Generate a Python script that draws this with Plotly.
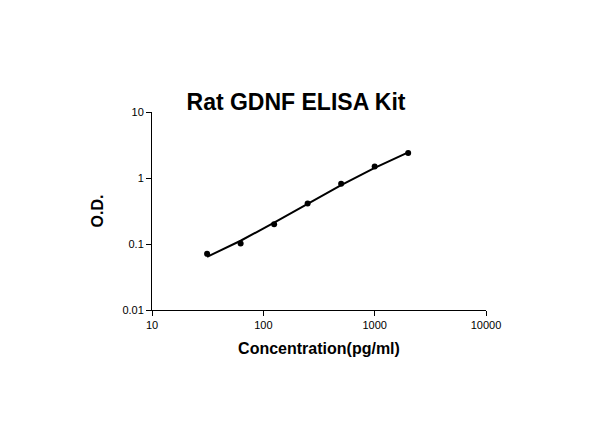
import plotly.graph_objects as go

conc = [31.25, 62.5, 125, 250, 500, 1000, 2000]
od = [0.071, 0.102, 0.20, 0.41, 0.82, 1.5, 2.4]
fit_x = [31.25, 62.5, 125, 250, 500, 1000, 2000]
fit_y = [0.064, 0.112, 0.21, 0.40, 0.78, 1.42, 2.45]

fig = go.Figure()
fig.add_trace(go.Scatter(x=fit_x, y=fit_y, mode='lines', line=dict(color='black', width=2), hoverinfo='skip'))
fig.add_trace(go.Scatter(x=conc, y=od, mode='markers', marker=dict(color='black', size=6)))

axis_common = dict(type='log', showgrid=False, zeroline=False, showline=True, linecolor='black', linewidth=1,
                   ticks='outside', ticklen=5, tickcolor='black', mirror=False,
                   tickfont=dict(family='Arial', size=11, color='black'))
fig.update_layout(
    width=600, height=447, showlegend=False,
    plot_bgcolor='white', paper_bgcolor='white',
    margin=dict(l=144, r=122, t=104, b=145),
    title=dict(text='<b>Rat GDNF ELISA Kit</b>', x=0.48, xanchor='center', y=0.79, yanchor='middle',
               font=dict(family='Arial', size=23, color='black')),
    xaxis=dict(axis_common, range=[1, 4], tickvals=[10, 100, 1000, 10000], ticktext=['10', '100', '1000', '10000'],
               title=dict(text='<b>Concentration(pg/ml)</b>', font=dict(family='Arial', size=16, color='black'), standoff=12)),
    yaxis=dict(axis_common, range=[-2, 1], tickvals=[0.01, 0.1, 1, 10], ticktext=['0.01', '0.1', '1', '10'],
               title=dict(text='<b>O.D.</b>', font=dict(family='Arial', size=16, color='black'), standoff=14)),
)
fig.write_html("out.html")
